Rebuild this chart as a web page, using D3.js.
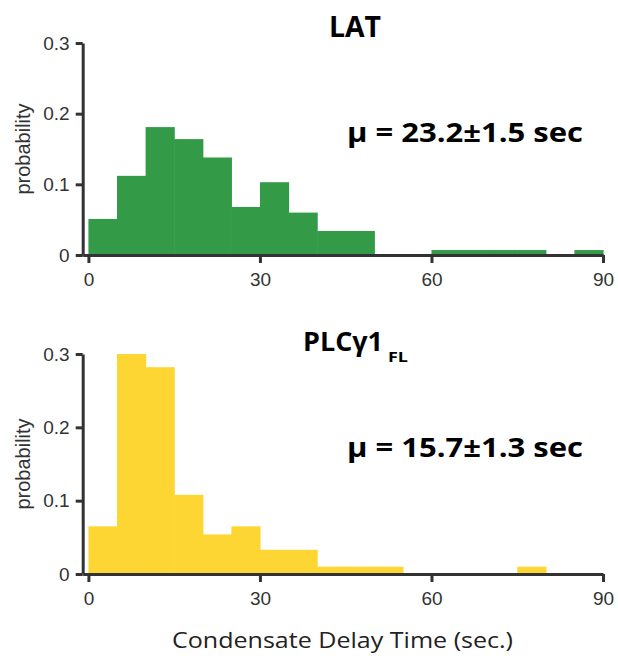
<!DOCTYPE html>
<html>
<head>
<meta charset="utf-8">
<script src="https://cdn.jsdelivr.net/npm/d3@7"></script>
<style>
  body { margin: 0; background: #fff; }
  .axis path, .axis line { stroke: #333; stroke-width: 3; }
  .axis text { font-family: "Liberation Sans", Arial, sans-serif; font-size: 19px; fill: #333; }
</style>
</head>
<body>
<script>
// bin edges (sec.) and probability per 5 s bin
var binEdges = [0,5,10,15,20,25,30,35,40,45,50,55,60,65,70,75,80,85,90];
var latProb = [0.051,0.112,0.181,0.164,0.138,0.068,0.103,0.060,0.034,0.034,0,0,0.007,0.007,0.007,0.007,0,0.007];
var plcProb = [0.065,0.300,0.282,0.108,0.054,0.065,0.033,0.033,0.010,0.010,0.010,0,0,0,0,0.010,0,0];
var xTicks = [0,30,60,90];
var yTicks = [0,0.1,0.2,0.3];

var width = 618, height = 659;

var svg = d3.select("body").append("svg")
    .attr("width", width)
    .attr("height", height);

var x = d3.scaleLinear()
    .domain([-1, 90])
    .range([82.7, 603]);

function drawPanel(probs, top, bottom, color) {
  var y = d3.scaleLinear()
      .domain([0, 0.3])
      .range([bottom, top]);

  var g = svg.append("g");

  var bins = probs.map(function(p, i) { return {x0: binEdges[i], x1: binEdges[i+1], p: p}; })
      .filter(function(d) { return d.p > 0; });

  g.selectAll(".bar")
      .data(bins)
      .enter().append("rect")
      .attr("class", "bar")
      .attr("x", function(d) { return x(d.x0); })
      .attr("width", function(d) { return x(d.x1) - x(d.x0) + 0.6; })
      .attr("y", function(d) { return y(d.p); })
      .attr("height", function(d) { return y(0) - y(d.p); })
      .style("fill", color);

  g.append("g")
      .attr("class", "axis")
      .attr("transform", "translate(0," + bottom + ")")
      .call(d3.axisBottom(x).tickValues(xTicks).tickSize(8).tickSizeOuter(0).tickPadding(6))
      .call(function(a) { a.selectAll("text").attr("dy", "0.9em"); });

  g.append("g")
      .attr("class", "axis")
      .attr("transform", "translate(" + x(-1) + ",0)")
      .call(d3.axisLeft(y).tickValues(yTicks).tickSize(7).tickSizeOuter(0).tickPadding(6)
        .tickFormat(function(d) { return d === 0 ? "0" : d.toFixed(1); }));

  svg.append("text")
      .attr("transform", "translate(30," + (top + bottom) / 2 + ") rotate(-90)")
      .attr("text-anchor", "middle")
      .style("font-family", "Liberation Sans, Arial, sans-serif")
      .style("font-size", "20px")
      .style("fill", "#333")
      .text("probability");

  return y;
}

drawPanel(latProb, 43, 255, "#339b48");
drawPanel(plcProb, 354, 574, "#fdd633");

var bold = "'Open Sans', 'Noto Sans', sans-serif";

svg.append("text")
    .attr("x", 329).attr("y", 37)
    .attr("textLength", 52).attr("lengthAdjust", "spacingAndGlyphs")
    .style("font-family", bold).style("font-weight", 700).style("font-size", "28px")
    .text("LAT");

svg.append("text")
    .attr("x", 347).attr("y", 142)
    .attr("textLength", 236).attr("lengthAdjust", "spacingAndGlyphs")
    .style("font-family", bold).style("font-weight", 700).style("font-size", "26px")
    .text("μ = 23.2±1.5 sec");

var t2 = svg.append("text")
    .attr("y", 351)
    .style("font-family", bold).style("font-weight", 700).style("font-size", "27px");
t2.append("tspan").attr("x", 303).attr("textLength", 80).attr("lengthAdjust", "spacingAndGlyphs").text("PLCγ1");
t2.append("tspan").attr("x", 388).attr("y", 362).style("font-size", "15px")
    .attr("textLength", 20).attr("lengthAdjust", "spacingAndGlyphs").text("FL");

svg.append("text")
    .attr("x", 347).attr("y", 457)
    .attr("textLength", 236).attr("lengthAdjust", "spacingAndGlyphs")
    .style("font-family", bold).style("font-weight", 700).style("font-size", "26px")
    .text("μ = 15.7±1.3 sec");

svg.append("text")
    .attr("x", 172).attr("y", 648)
    .attr("textLength", 341).attr("lengthAdjust", "spacingAndGlyphs")
    .style("font-family", "'Open Sans', sans-serif").style("font-size", "21px").style("fill", "#222")
    .text("Condensate Delay Time (sec.)");
</script>
</body>
</html>
